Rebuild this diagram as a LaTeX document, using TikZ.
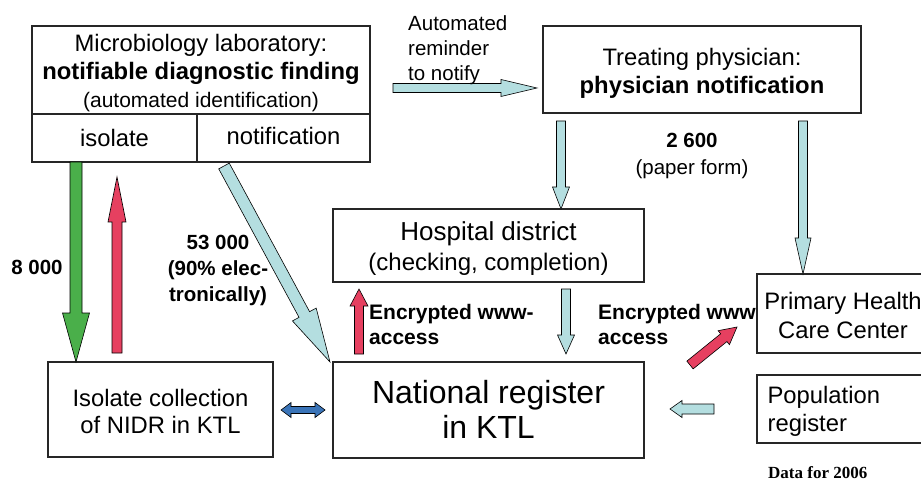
\documentclass[tikz,border=0pt]{standalone}
\usepackage{fontspec}
\setmainfont{Liberation Sans}
\newfontfamily\timesfont{Liberation Serif}
\usetikzlibrary{calc}
\definecolor{agreen}{RGB}{74,175,74}
\definecolor{ared}{RGB}{230,64,96}
\definecolor{alblue}{RGB}{180,222,224}
\definecolor{ablue}{RGB}{58,116,184}
\newcommand\fs[2]{\fontsize{#1}{#2}\selectfont}
% block arrow: from, to, half shaft, half head, head length, colour
\newcommand\blockarrow[6]{%
  \path ($(#2)!#5!(#1)$) coordinate (neck);
  \draw[blk, fill=#6] ($(#1)!#3!90:(#2)$) -- ($(neck)!#3!90:(#2)$) -- ($(neck)!#4!90:(#2)$) -- (#2)
    -- ($(neck)!#4!-90:(#2)$) -- ($(neck)!#3!-90:(#2)$) -- ($(#1)!#3!-90:(#2)$) -- cycle;}
\newcommand\dblarrow[6]{%
  \path ($(#1)!#5!(#2)$) coordinate (neckA) ($(#2)!#5!(#1)$) coordinate (neckB);
  \draw[blk, fill=#6] (#1) -- ($(neckA)!#4!90:(#2)$) -- ($(neckA)!#3!90:(#2)$) -- ($(neckB)!#3!90:(#2)$)
    -- ($(neckB)!#4!90:(#2)$) -- (#2) -- ($(neckB)!#4!-90:(#2)$) -- ($(neckB)!#3!-90:(#2)$)
    -- ($(neckA)!#3!-90:(#2)$) -- ($(neckA)!#4!-90:(#2)$) -- cycle;}
\begin{document}
\begin{tikzpicture}[x=1pt,y=-1pt,
  box/.style={draw=black!85, line width=1.2pt, inner sep=0pt, fill=white},
  txt/.style={inner sep=0pt, align=center},
  blk/.style={draw=black, line width=0.6pt, line join=miter},
  lbl/.style={inner sep=0pt, font=\bfseries\fs{20.5}{25}}]
\useasboundingbox (0,0) rectangle (921,481);
\clip (0,0) rectangle (921,481);

% boxes
\node[box, minimum width=338pt, minimum height=88pt] (lab) at (201,70) {};
\node[box, minimum width=165pt, minimum height=48pt] (iso) at (114.5,138) {};
\node[box, minimum width=173pt, minimum height=48pt] (notif) at (283.5,138) {};
\node[box, minimum width=318pt, minimum height=87pt] (phys) at (702,69.5) {};
\node[box, minimum width=311pt, minimum height=73pt] (hosp) at (488.5,245.5) {};
\node[box, minimum width=311pt, minimum height=96pt] (nat) at (488.5,410) {};
\node[box, minimum width=225pt, minimum height=95pt] (coll) at (160.5,409.5) {};
\node[box, minimum width=172pt, minimum height=79pt] (phc) at (843,313.5) {};
\node[box, minimum width=172pt, minimum height=68pt] (pop) at (843,409) {};

% box texts
\node[txt, font=\fs{23.8}{28}] (labt) at ($(lab.center)+(0,3.5)$)
  {Microbiology laboratory:\\\textbf{notifiable diagnostic finding}\\{\fs{21}{28}(automated identification)}};
\node[txt, font=\fs{23.8}{28}] (isot) at ($(iso.center)+(0,-0.5)$) {isolate};
\node[txt, font=\fs{23.8}{28}] (notift) at ($(notif.center)+(0,-2)$) {notification};
\node[txt, font=\fs{23.8}{28}] (physt) at ($(phys.center)+(0,4)$)
  {Treating physician:\\\textbf{physician notification}};
\node[txt, font=\fs{24}{30}] (hospt) at ($(hosp.center)+(0,3)$)
  {{\fs{26}{30}Hospital district}\\(checking, completion)};
\node[txt, font=\fs{32}{35}] (natt) at ($(nat.center)+(0,-0.5)$) {National register\\in KTL};
\node[txt, font=\fs{23.8}{27}] (collt) at ($(coll.center)+(0,2)$) {Isolate collection\\of NIDR in KTL};
\node[txt, font=\fs{23.8}{29}] (phct) at ($(phc.center)+(0,1.5)$) {Primary Health\\Care Center};
\node[txt, align=left, anchor=west, font=\fs{23.8}{28}] (popt) at ($(pop.west)+(11,2.5)$) {Population\\register};

% arrow end points
\coordinate (g1) at (76,162);   \coordinate (g2) at (76,362);
\coordinate (r1) at (117,353);  \coordinate (r2) at (117,177);
\coordinate (d1) at (224,166);  \coordinate (d2) at (330,362);
\coordinate (b1) at (281,410);  \coordinate (b2) at (325,410);
\coordinate (m1) at (393,88);   \coordinate (m2) at (537,88);
\coordinate (p1) at (561,121);  \coordinate (p2) at (561,209);
\coordinate (q1) at (803,121);  \coordinate (q2) at (803,274);
\coordinate (u1) at (359,354);  \coordinate (u2) at (359,289);
\coordinate (h1) at (566,289);  \coordinate (h2) at (566,354);
\coordinate (e1) at (690,365);  \coordinate (e2) at (737,327);
\coordinate (l1) at (714,409);  \coordinate (l2) at (670,409);

\blockarrow{g1}{g2}{6pt}{13.5pt}{49pt}{agreen}
\blockarrow{r1}{r2}{5pt}{9pt}{45pt}{ared}
\blockarrow{d1}{d2}{6pt}{13.5pt}{54pt}{alblue}
\dblarrow{b1}{b2}{3.5pt}{7.5pt}{10pt}{ablue}
\blockarrow{m1}{m2}{4.5pt}{8.5pt}{36pt}{alblue}
\blockarrow{p1}{p2}{4.5pt}{8.5pt}{22pt}{alblue}
\blockarrow{q1}{q2}{4.5pt}{8pt}{36pt}{alblue}
\blockarrow{u1}{u2}{4.5pt}{9pt}{17pt}{ared}
\blockarrow{h1}{h2}{4.5pt}{8.5pt}{19pt}{alblue}
\blockarrow{e1}{e2}{5pt}{9pt}{17pt}{ared}
\blockarrow{l1}{l2}{5pt}{8.5pt}{12pt}{alblue}

% labels
\node[inner sep=0pt, anchor=west, align=left, font=\fs{20.5}{25}] (rem) at (408,50) {Automated\\reminder\\to notify};
\node[lbl] (n8) at (37,267) {8 000};
\node[lbl, align=center, font=\bfseries\fs{20.5}{26}] (n53) at (218,270) {53 000\\(90\% elec-\\tronically)};
\node[inner sep=0pt, align=center, font=\fs{20.5}{27}] (n26) at (692,156) {\textbf{2 600}\\(paper form)};
\node[lbl, anchor=west, align=left, font=\bfseries\fs{21}{25}] (enc1) at (369,324.5) {Encrypted www-\\access};
\node[lbl, anchor=west, align=left, font=\bfseries\fs{21}{25}] (enc2) at (598,324.5) {Encrypted www\\access};
\node[inner sep=0pt, anchor=west, font=\timesfont\bfseries\fs{17}{20}] (data) at (768,473) {Data for 2006};
\end{tikzpicture}
\end{document}
